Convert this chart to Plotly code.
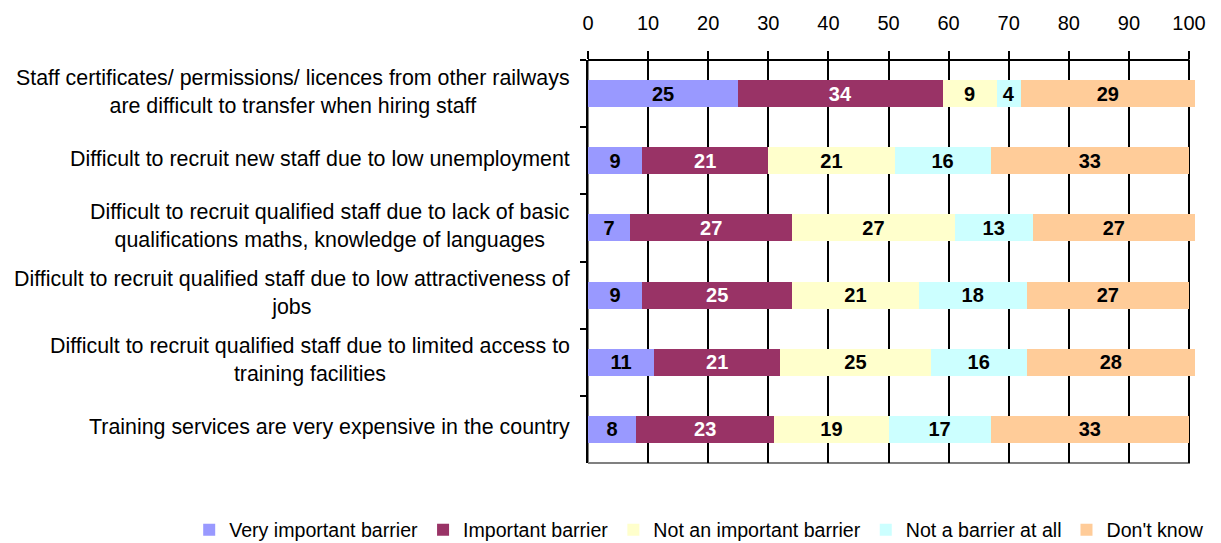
import plotly.graph_objects as go

categories = [
    "Staff certificates/ permissions/ licences from other railways<br>are difficult to transfer when hiring staff",
    "Difficult to recruit new staff due to low unemployment",
    "Difficult to recruit qualified staff due to lack of basic<br>qualifications maths, knowledge of languages",
    "Difficult to recruit qualified staff due to low attractiveness of<br>jobs",
    "Difficult to recruit qualified staff due to limited access to<br>training facilities",
    "Training services are very expensive in the country",
]

very_important = [25, 9, 7, 9, 11, 8]
important = [34, 21, 27, 25, 21, 23]
not_important = [9, 21, 27, 21, 25, 19]
not_a_barrier = [4, 16, 13, 18, 16, 17]
dont_know = [29, 33, 27, 27, 28, 33]

series = [
    ("Very important barrier", very_important, "#9999FF", "black"),
    ("Important barrier", important, "#993366", "white"),
    ("Not an important barrier", not_important, "#FFFFCC", "black"),
    ("Not a barrier at all", not_a_barrier, "#CCFFFF", "black"),
    ("Don't know", dont_know, "#FFCC99", "black"),
]

FONT = "Liberation Sans, Arial, sans-serif"
ykeys = [f"c{i}" for i in range(len(categories))]

fig = go.Figure()
for name, vals, color, tcolor in series:
    fig.add_trace(go.Bar(
        y=ykeys, x=vals, name=name, orientation="h",
        marker=dict(color=color, line=dict(width=0)),
        text=vals, textposition="inside", insidetextanchor="middle",
        textangle=0, constraintext="none",
        textfont=dict(family=FONT, size=20, color=tcolor, weight="bold"),
        cliponaxis=False,
    ))

# category labels, centred lines, right edge next to the axis
for key, label in zip(ykeys, categories):
    fig.add_annotation(
        x=0, xref="paper", xshift=-16, y=key, yref="y", yshift=2,
        text=label, showarrow=False, xanchor="right", yanchor="middle",
        align="center", font=dict(family=FONT, size=21.4, color="black"),
    )

# plot border (grey) and top axis line (black) spanning 0..100
fig.add_shape(type="rect", x0=0, x1=100, y0=0, y1=1, xref="x", yref="paper",
              line=dict(color="#808080", width=2), layer="below")
fig.add_shape(type="line", x0=0, x1=100, y0=1, y1=1, xref="x", yref="paper",
              line=dict(color="black", width=2), layer="above")

fig.update_layout(
    barmode="stack",
    bargap=0.6,
    width=1221, height=543,
    margin=dict(l=588, r=26, t=60, b=80, autoexpand=False),
    paper_bgcolor="white", plot_bgcolor="white",
    font=dict(family=FONT, size=20, color="black"),
    showlegend=True,
    legend=dict(orientation="h", x=-0.657, xanchor="left",
                y=-0.118, yanchor="top",
                font=dict(size=19.6), traceorder="normal",
                itemwidth=30, tracegroupgap=0),
    xaxis=dict(
        side="top", range=[0, 101], tick0=0, dtick=10,
        ticks="outside", ticklen=8, tickwidth=2, tickcolor="black",
        ticklabelstandoff=13,
        showgrid=True, gridcolor="black", gridwidth=2,
        showline=False, zeroline=False,
        tickfont=dict(size=20),
    ),
    yaxis=dict(
        type="category", categoryorder="array", categoryarray=ykeys,
        autorange="reversed", showticklabels=False,
        ticks="outside", ticklen=6, tickwidth=2, tickcolor="black",
        tickson="boundaries",
        showline=True, linecolor="black", linewidth=2,
        showgrid=False, zeroline=False,
    ),
)

fig.write_html("out.html")
